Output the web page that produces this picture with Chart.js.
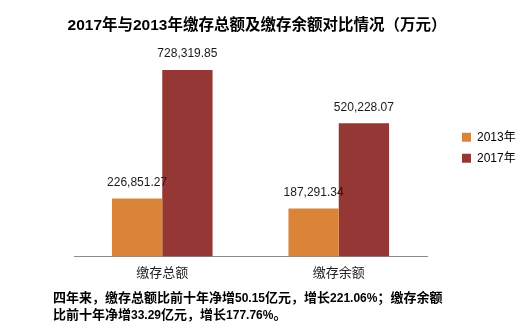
<!DOCTYPE html>
<html lang="zh-CN">
<head>
<meta charset="utf-8">
<script src="https://cdn.jsdelivr.net/npm/chart.js@4.4.0/dist/chart.umd.min.js"></script>
<style>
    html, body { margin: 0; padding: 0; background: #fff; }
    #wrap { position: relative; width: 522px; height: 332px; overflow: hidden; }
    #grafico { position: absolute; left: 0; top: 0; }
    #titulo {
        position: absolute; left: 0; top: 12px; width: 514px; text-align: center;
        font: bold 15.5px "Liberation Sans", "Noto Sans CJK SC", sans-serif; color: #000;
    }
    #nota {
        position: absolute; left: 53px; top: 288px; color: #000;
        font: bold 13px "Noto Sans CJK SC", sans-serif; line-height: 17px;
    }
    #nota span { font: bold 12px "Liberation Sans", sans-serif; }
</style>
</head>
<body>
<div id="wrap">
    <canvas id="grafico" width="522" height="332"></canvas>
    <div id="titulo">2017年与2013年缴存总额及缴存余额对比情况（万元）</div>
    <div id="nota">四年来，缴存总额比前十年净增<span>50.15</span>亿元，增长<span>221.06%</span>；缴存余额<br>比前十年净增<span>33.29</span>亿元，增长<span>177.76%</span>。</div>
</div>
<script>
// ===== DADOS =====
const categorias = ["缴存总额", "缴存余额"];
const anos = ["2013年", "2017年"];
const valores2013 = [226851.27, 187291.34];
const valores2017 = [728319.85, 520228.07];
const cores = ["#DA8438", "#953735"];

const fonteTexto = "'Liberation Sans', 'Noto Sans CJK SC', sans-serif";

/* ===== RÓTULOS SOBRE AS BARRAS ===== */
const rotulos = {
    id: "rotulos",
    afterDatasetsDraw(chart) {
        const ctx = chart.ctx;
        ctx.save();
        ctx.font = "12px " + fonteTexto;
        ctx.fillStyle = "#1a1a1a";
        ctx.textAlign = "center";
        ctx.textBaseline = "middle";
        chart.data.datasets.forEach((ds, i) => {
            chart.getDatasetMeta(i).data.forEach((bar, j) => {
                const txt = ds.data[j].toLocaleString("en-US", {
                    minimumFractionDigits: 2, maximumFractionDigits: 2
                });
                ctx.fillText(txt, bar.x, bar.y - 16);
            });
        });
        ctx.restore();
    }
};

/* ===== GRÁFICO ===== */
new Chart(document.getElementById("grafico"), {
    type: "bar",
    data: {
        labels: categorias,
        datasets: [
            { label: anos[0], data: valores2013, backgroundColor: cores[0] },
            { label: anos[1], data: valores2017, backgroundColor: cores[1] }
        ]
    },
    options: {
        responsive: false,
        animation: false,
        layout: { padding: { left: 74, right: 0, top: 39, bottom: 44 } },
        datasets: { bar: { categoryPercentage: 0.57, barPercentage: 1 } },
        scales: {
            x: {
                grid: { display: false, drawTicks: false },
                border: { color: "#8c8c8c", width: 1 },
                ticks: {
                    padding: 8,
                    color: "#222",
                    font: { family: "'Noto Sans CJK SC', sans-serif", size: 13 }
                }
            },
            y: {
                position: "right",
                min: 0,
                max: 850000,
                grid: { display: false },
                border: { display: false },
                ticks: { display: false },
                afterFit: s => { s.width = 26; }
            }
        },
        plugins: {
            legend: {
                position: "right",
                fullSize: false,
                maxWidth: 69,
                labels: {
                    boxWidth: 9,
                    boxHeight: 9,
                    padding: 9,
                    color: "#000",
                    font: { family: fonteTexto, size: 12 }
                }
            },
            tooltip: { enabled: false }
        }
    },
    plugins: [rotulos]
});
</script>
</body>
</html>
